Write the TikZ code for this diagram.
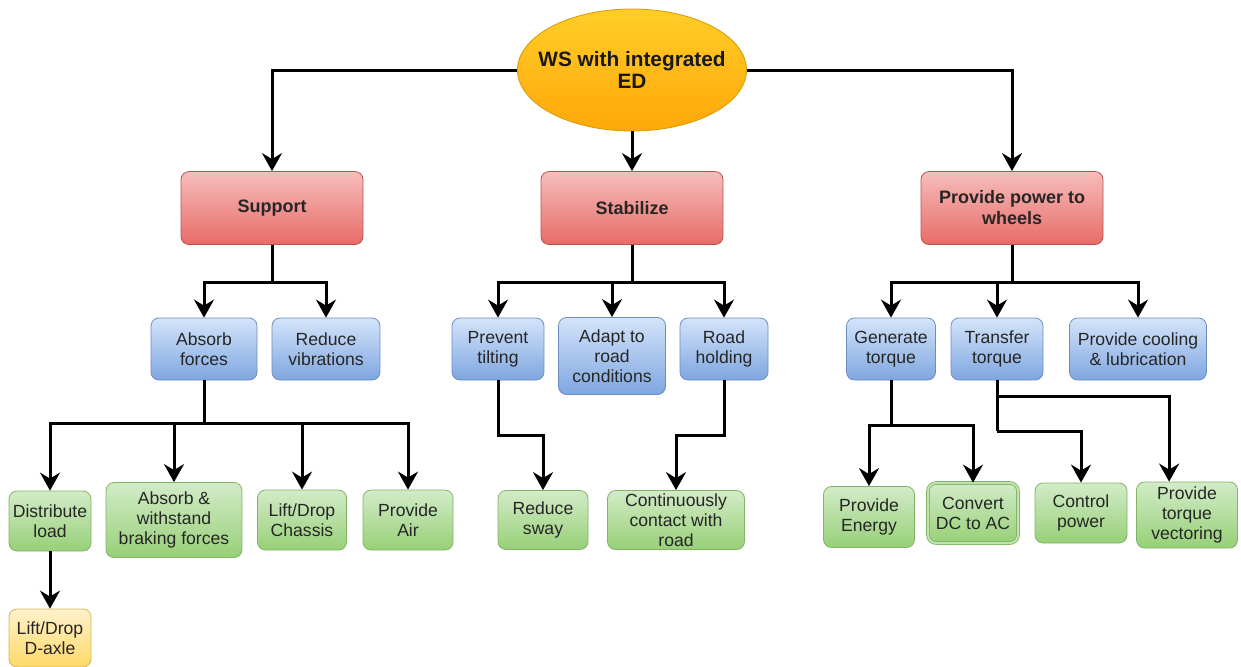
\documentclass[tikz,border=0pt]{standalone}
\usepackage{fontspec}
\setmainfont{Liberation Sans}
\usetikzlibrary{shapes.geometric,arrows.meta}
\definecolor{wsroot}{HTML}{FFCD28}
\definecolor{wsrootdark}{HTML}{FFA80A}
\definecolor{wsrootline}{HTML}{D79B00}
\definecolor{wsred}{HTML}{F6BDBB}
\definecolor{wsreddark}{HTML}{E86B68}
\definecolor{wsredline}{HTML}{B85450}
\definecolor{wsblue}{HTML}{D4E4FA}
\definecolor{wsbluedark}{HTML}{7EA6E0}
\definecolor{wsblueline}{HTML}{6C8EBF}
\definecolor{wsgreen}{HTML}{D2EBC8}
\definecolor{wsgreendark}{HTML}{97D077}
\definecolor{wsgreenline}{HTML}{82B366}
\definecolor{wsyellow}{HTML}{FFF2CC}
\definecolor{wsyellowdark}{HTML}{FFD966}
\definecolor{wsyellowline}{HTML}{D6B656}

\begin{document}
\begin{tikzpicture}[x=0.5pt,y=-0.5pt,
    box/.style={rectangle, rounded corners=4pt, align=center, inner sep=1pt, text=black!85, font=\fontsize{8.8}{10}\selectfont},
    rootnode/.style={ellipse, draw=wsrootline, top color=wsroot, bottom color=wsrootdark, inner sep=0pt, minimum width=114.5pt, minimum height=61pt},
    roottext/.style={align=center, inner sep=0pt, text=black!90, font=\fontsize{10.4}{11}\selectfont\bfseries},
    mainbox/.style={box, draw=wsredline, top color=wsred, bottom color=wsreddark, minimum width=91pt, minimum height=36.5pt, font=\fontsize{9}{10.5}\selectfont\bfseries},
    subbox/.style={box, draw=wsblueline, top color=wsblue, bottom color=wsbluedark, minimum height=31pt},
    leafbox/.style={box, draw=wsgreenline, top color=wsgreen, bottom color=wsgreendark, minimum height=30pt},
    extrabox/.style={box, draw=wsyellowline, top color=wsyellow, bottom color=wsyellowdark, minimum height=29pt},
    link/.style={line width=1.5pt, black},
    arr/.style={link, -{Stealth[length=9pt, width=10pt, inset=3pt]}}]
    \useasboundingbox (0,0) rectangle (1241,666);

    % Root
    \node[rootnode, label={[roottext]center:WS with integrated\\ED}] (root) at (632,70) {};

    % Main functions
    \node[mainbox] (support) at (272,208) {Support};
    \node[mainbox] (stab) at (632,208) {Stabilize};
    \node[mainbox] (power) at (1012,208) {Provide power to\\wheels};

    \draw[arr] (root.west) -| (support);
    \draw[arr] (root) -- (stab);
    \draw[arr] (root.east) -| (power);

    % Sub functions
    \node[subbox, minimum width=53pt] (absorb) at (204,349) {Absorb\\forces};
    \node[subbox, minimum width=54pt] (vibr) at (326,349) {Reduce\\vibrations};
    \node[subbox, minimum width=46pt] (tilt) at (498,349) {Prevent\\tilting};
    \node[subbox, minimum width=53.5pt, minimum height=38.5pt] (adapt) at (612,356) {Adapt to\\road\\conditions};
    \node[subbox, minimum width=44pt] (hold) at (724,349) {Road\\holding};
    \node[subbox, minimum width=44.5pt] (gen) at (891,349) {Generate\\torque};
    \node[subbox, minimum width=46pt] (transf) at (997,349) {Transfer\\torque};
    \node[subbox, minimum width=68.5pt] (cool) at (1138,349) {Provide cooling\\\& lubrication};

    \coordinate (sjoin) at (272,282);
    \coordinate (stjoin) at (632,282);
    \coordinate (pjoin) at (1012,282);
    \draw[link] (support) -- (sjoin);
    \draw[arr] (sjoin) -| (absorb);
    \draw[arr] (sjoin) -| (vibr);
    \draw[link] (stab) -- (stjoin);
    \draw[arr] (stjoin) -| (tilt);
    \draw[arr] (stjoin) -| (adapt);
    \draw[arr] (stjoin) -| (hold);
    \draw[link] (power) -- (pjoin);
    \draw[arr] (pjoin) -| (gen);
    \draw[arr] (pjoin) -| (transf);
    \draw[arr] (pjoin) -| (cool);

    % Leaf functions
    \node[leafbox, minimum width=41pt] (distrib) at (50,521) {Distribute\\load};
    \node[leafbox, minimum width=68pt, minimum height=37.5pt] (braking) at (174,520) {Absorb \&\\withstand\\braking forces};
    \node[leafbox, minimum width=44.5pt] (chassis) at (302,520) {Lift/Drop\\Chassis};
    \node[leafbox, minimum width=45pt] (air) at (408,520) {Provide\\Air};
    \node[extrabox, minimum width=41pt] (daxle) at (50,638) {Lift/Drop\\D-axle};
    \node[leafbox, minimum width=45pt, minimum height=29.5pt] (sway) at (543,520) {Reduce\\sway};
    \node[leafbox, minimum width=68.5pt, minimum height=29.5pt] (contact) at (676,520) {Continuously\\contact with\\road};
    \node[leafbox, minimum width=45.5pt, minimum height=30.5pt] (energy) at (869,517) {Provide\\Energy};
    \node[leafbox, minimum width=45pt, double=wsgreen!70!wsgreendark, double distance=1pt] (convert) at (973,513) {Convert\\DC to AC};
    \node[leafbox, minimum width=46pt] (control) at (1081,513) {Control\\power};
    \node[leafbox, minimum width=50.5pt, minimum height=33pt] (vector) at (1187,515) {Provide\\torque\\vectoring};

    \coordinate (ajoin) at (204,423);
    \draw[link] (absorb) -- (ajoin);
    \draw[arr] (ajoin) -| (distrib);
    \draw[arr] (ajoin) -| (braking);
    \draw[arr] (ajoin) -| (chassis);
    \draw[arr] (ajoin) -| (air);
    \draw[arr] (distrib) -- (daxle);

    \coordinate (tjoin) at (498,435);
    \coordinate (hjoin) at (724,435);
    \draw[arr] (tilt) -- (tjoin) -| (sway);
    \draw[arr] (hold) -- (hjoin) -| (contact);

    \coordinate (gjoin) at (891,425);
    \coordinate (trjoin) at (997,396);
    \coordinate (trjoin2) at (997,431);
    \draw[link] (gen) -- (gjoin);
    \draw[arr] (gjoin) -| (energy);
    \draw[arr] (gjoin) -| (convert);
    \draw[link] (transf) -- (trjoin2);
    \draw[arr] (trjoin2) -| (control);
    \draw[arr] (trjoin) -| ([xshift=16.5pt]vector.north west);
\end{tikzpicture}
\end{document}
